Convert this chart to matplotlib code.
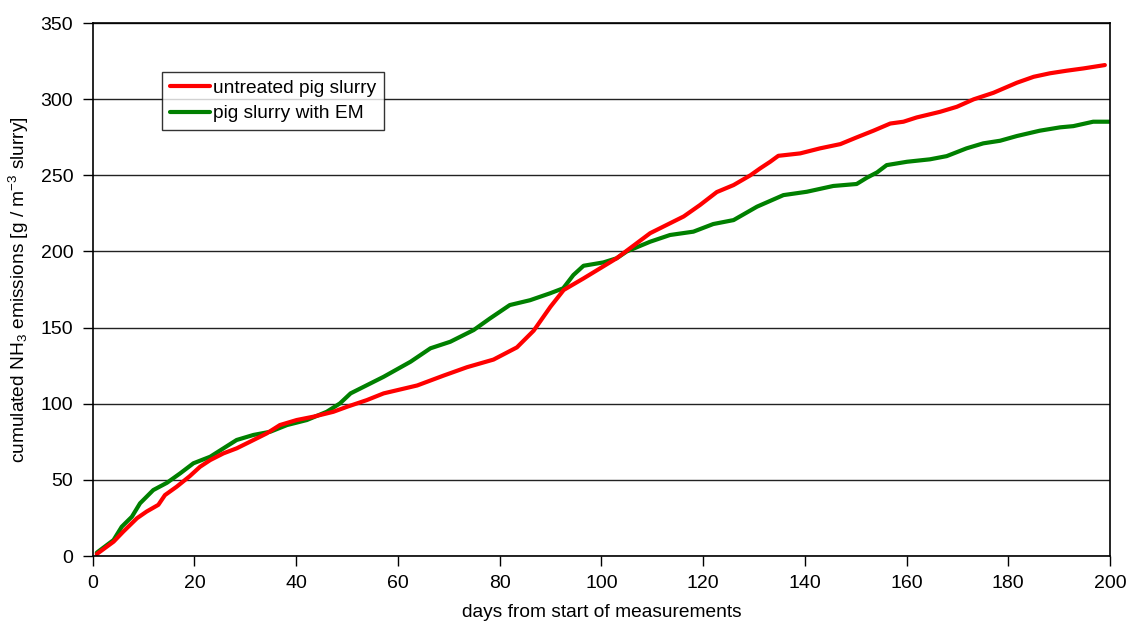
import matplotlib
matplotlib.use("Agg")
import matplotlib.pyplot as plt

plt.rcParams['font.family'] = ['Liberation Sans', 'DejaVu Sans']
plt.rcParams['mathtext.fontset'] = 'custom'
plt.rcParams['mathtext.rm'] = 'Liberation Sans'
plt.rcParams['mathtext.it'] = 'Liberation Sans'

# cumulated NH3 emissions, untreated pig slurry
days_untreated = [0.8, 4.1, 6, 8.7, 10.6, 12.9, 14.2, 16.5, 19.1, 21.1, 23.1, 25.7,
                  28.3, 30.9, 34.2, 36.8, 40.1, 43.4, 47.3, 50, 53.9, 57.2, 63.8,
                  69, 73.6, 78.8, 83.4, 86.7, 90, 92.6, 96.5, 103, 109.6, 116.2,
                  119.4, 122.7, 126, 129.3, 131.2, 133.2, 134.8, 139.1, 143, 147,
                  150.2, 153.5, 156.8, 159.4, 162, 166.6, 169.9, 173.2, 177.1,
                  181.7, 185, 188.2, 191.5, 194.8, 199]
nh3_untreated = [1.3, 9.4, 16, 24.8, 29.2, 33.6, 40, 45.5, 52.5, 58.6, 63, 67.4,
                 70.7, 75, 80.5, 86, 89.3, 91.5, 94.7, 98, 102.4, 106.8, 112,
                 118.5, 124, 129, 137, 148, 163.7, 174.7, 182.3, 195.5, 212, 223,
                 230.5, 239, 243.6, 250, 254.5, 258.9, 262.8, 264.4, 267.7, 270.5,
                 274.9, 279.3, 284, 285.2, 288, 291.7, 295, 299.9, 304.2, 310.8,
                 314.7, 317, 318.7, 320.2, 322.4]

# cumulated NH3 emissions, pig slurry with EM
days_em = [0.8, 4.1, 5.7, 7.7, 9.3, 11.9, 14.6, 17.2, 19.8, 23.1, 25.7, 28.3,
           31.6, 34.9, 38.2, 42.1, 46, 48.6, 50.7, 57.2, 62.5, 66.4, 70.3, 74.9,
           78.1, 82, 86, 89.9, 92.5, 94.5, 96.5, 100.4, 103, 105, 109.6, 113.5,
           118.1, 122, 126, 130.6, 135.8, 140.4, 145.6, 150.2, 152.2, 154.2,
           156.1, 160.1, 164.6, 167.9, 171.8, 175.1, 178.4, 181.7, 186.2, 190.2,
           192.8, 196.7, 200]
nh3_em = [2.2, 10.5, 19.2, 25.8, 34.6, 43.3, 48.1, 54.3, 60.9, 65.2, 70.7, 76.2,
          79.5, 81.6, 86, 89.3, 94.7, 100.2, 106.8, 117.7, 127.6, 136.4, 140.7,
          148.4, 156, 164.8, 168, 172.5, 175.8, 184.5, 190.6, 192.8, 195.5, 200,
          206.4, 210.8, 213, 218, 220.6, 229.4, 237, 239.2, 243, 244.3, 248.4,
          251.9, 256.7, 258.9, 260.5, 262.6, 267.7, 271, 272.7, 275.8, 279.3,
          281.5, 282.3, 285.2, 285.2]

x_ticks = list(range(0, 201, 20))
y_ticks = list(range(0, 351, 50))

fig = plt.figure(figsize=(11.28, 6.26), dpi=100)
ax = fig.add_axes([0.0822, 0.1118, 0.9018, 0.8514])

ax.set_axisbelow(True)
ax.yaxis.grid(True, color='#222222', linewidth=1.0)

l_em, = ax.plot(days_em, nh3_em, color='#008000', linewidth=3.0,
                solid_capstyle='round', solid_joinstyle='round',
                label='pig slurry with EM')
l_un, = ax.plot(days_untreated, nh3_untreated, color='#ff0000', linewidth=3.0,
                solid_capstyle='round', solid_joinstyle='round',
                label='untreated pig slurry')

ax.set_xlim(0, 200)
ax.set_ylim(0, 350)
ax.set_xticks(x_ticks)
ax.set_yticks(y_ticks)
ax.tick_params(direction='out', length=7, width=1, labelsize=14, color='black', pad=7)

for s in ax.spines.values():
    s.set_color('black')
    s.set_linewidth(1.2)

ax.set_xlabel('days from start of measurements', fontsize=13.8, labelpad=8)
ax.set_ylabel('cumulated NH$_3$ emissions [g / m$^{-3}$ slurry]', fontsize=13.8, labelpad=7)

leg = ax.legend(handles=[l_un, l_em], loc='upper left', bbox_to_anchor=(0.068, 0.908),
                fontsize=13.8, frameon=True, fancybox=False, edgecolor='black',
                handlelength=2.1, handletextpad=0.15, borderpad=0.4,
                labelspacing=0.4, borderaxespad=0)
leg.get_frame().set_linewidth(1.0)

fig.savefig('out.png', dpi=100)
